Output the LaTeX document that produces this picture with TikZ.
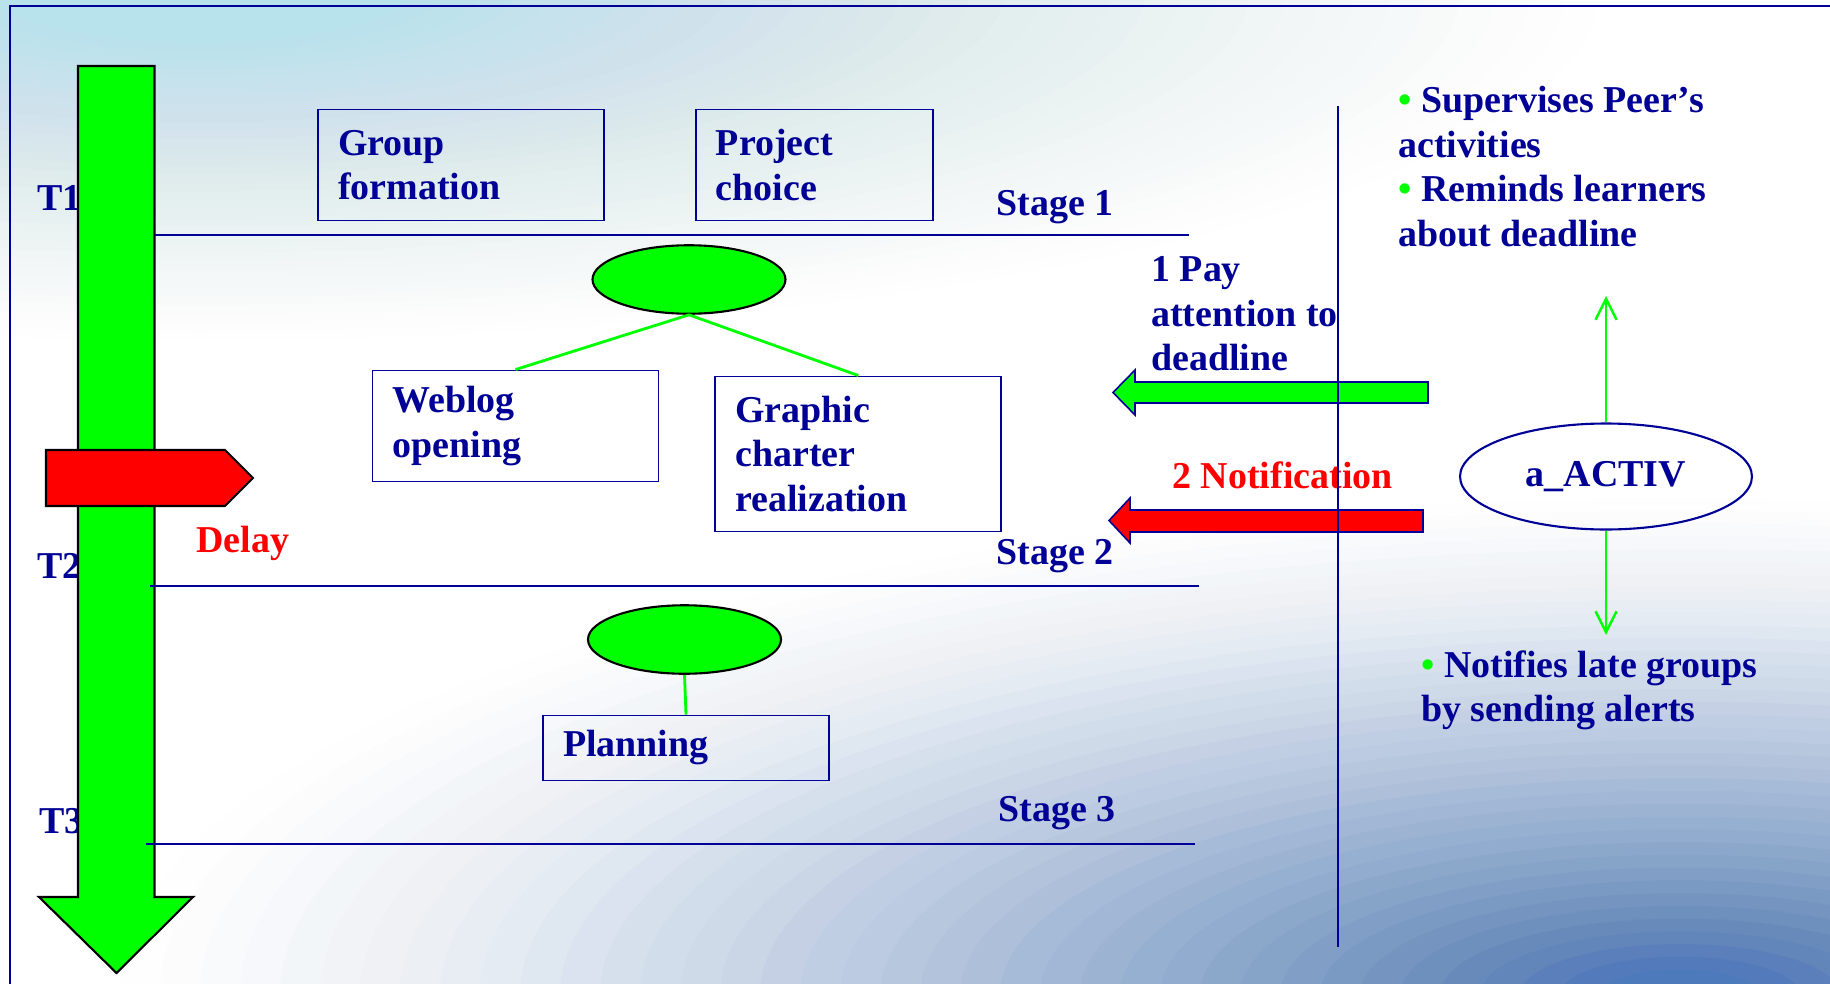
\documentclass[tikz,border=0pt]{standalone}
\usepackage{fontspec}
\setmainfont{Liberation Serif}
\usepackage{tikz}
\usetikzlibrary{positioning, arrows.meta, shapes.geometric}
\definecolor{darknavy}{RGB}{0,0,150}
\definecolor{brightgreen}{RGB}{0,255,0}
\definecolor{alertred}{RGB}{255,0,0}
\definecolor{bgcyan}{RGB}{184,226,236}
\definecolor{bgsteel}{RGB}{76,122,186}

\begin{document}
\begin{tikzpicture}[
    x=0.02cm, y=-0.02cm,
    >={Straight Barb[length=0.42cm, width=0.42cm]},
    txt/.style={font=\fontsize{21.6pt}{25.4pt}\selectfont\bfseries,
                text=darknavy, inner sep=0pt, align=left},
    taskbox/.style={txt, draw=darknavy, line width=1.1pt, inner xsep=0.4cm,
                    minimum height=2.22cm, minimum width=5.72cm, text width=4.92cm},
    blob/.style={ellipse, draw=black, line width=1.2pt, fill=brightgreen,
                 minimum width=3.86cm, minimum height=1.37cm, inner sep=0pt},
    stageline/.style={darknavy, line width=1.5pt},
    link/.style={brightgreen, line width=1.6pt},
    garr/.style={->, brightgreen, line width=1.4pt},
    bigarr/.style={draw=black, line width=1.2pt},
    sidearr/.style={draw=darknavy, line width=0.9pt},
  ]
  % Background
  \useasboundingbox (0,0) rectangle (1830,984);
  \begin{scope}
    \clip (0,0) rectangle (1830,984);
    \fill[white] (0,0) rectangle (1830,984);
    \foreach \k in {1,...,40} {
      \pgfmathsetmacro\ta{1-0.95*(max(0.001,1-(\k-0.5)/40))^1.3}
      \pgfmathsetmacro\tb{1-0.95*(max(0.001,1-(\k+0.5)/40))^1.3}
      \pgfmathsetmacro\op{1-\ta/\tb}
      \pgfmathsetmacro\rf{\k/40}
      \fill[bgcyan, fill opacity=\op] (200,-10)
        ellipse [x radius=\rf*1400, y radius=\rf*350];
    }
    \foreach \k in {1,...,40} {
      \pgfmathsetmacro\ta{1-0.97*(max(0.001,1-(\k-0.5)/40))^1.5}
      \pgfmathsetmacro\tb{1-0.97*(max(0.001,1-(\k+0.5)/40))^1.5}
      \pgfmathsetmacro\op{1-\ta/\tb}
      \pgfmathsetmacro\rf{\k/40}
      \fill[bgsteel, fill opacity=\op] (1680,995)
        ellipse [x radius=\rf*1600, y radius=\rf*510];
    }
  \end{scope}
  \draw[darknavy, line width=1.2pt] (10,990) -- (10,6) -- (1840,6);

  % Time axis
  \node[txt, anchor=base west] (t1) at (37,210) {T1};
  \node[txt, anchor=base west] (t2) at (37,578) {T2};
  \node[txt, anchor=base west] (t3) at (39,833) {T3};
  \draw[bigarr, fill=brightgreen] (78,66) -- (154.5,66) -- (154.5,897) -- (193,897)
    -- (116.5,973) -- (39,897) -- (78,897) -- cycle;
  \draw[bigarr, fill=alertred] (46,450) -- (225,450) -- (253,478) -- (225,506)
    -- (46,506) -- cycle;
  \node[txt, text=alertred, anchor=base west] (delay) at (196,552) {Delay};

  % Stages
  \foreach \s/\ya/\xa/\xb/\xl/\yl in {1/235/154.5/1189/1114/215,
                                      2/586/150/1199/1114/564,
                                      3/844/146/1195/1116/821} {
    \node[txt, anchor=base east] (stage\s) at (\xl,\yl) {Stage \s};
    \draw[stageline] (\xa,\ya) -- (\xb,\ya);
  }

  % Tasks
  \node[taskbox] (group) at (461,165) {Group\\formation};
  \node[taskbox, minimum width=4.74cm, text width=3.94cm,
        right=1.8cm of group] (project) {Project\\choice};
  \node[taskbox] (weblog) at (515.5,426) {Weblog\\opening};
  \node[taskbox, minimum height=3.1cm, right=1.1cm of weblog,
        yshift=-0.56cm] (graphic) {Graphic\\charter\\realization};
  \node[taskbox, minimum height=1.3cm] (planning) at (686,748) {Planning};

  \node[blob] (blob1) at (689,279.5) {};
  \node[blob] (blob2) at (684.5,639.5) {};
  \draw[link] (blob1.south) -- (weblog.north);
  \draw[link] (blob1.south) -- (graphic.north);
  \draw[link] (blob2.south) -- (planning.north);

  % Agent side
  \node[txt, anchor=north west] (pay) at (1151,256) {1 Pay\\attention to\\deadline};
  \node[txt, text=alertred, anchor=base west] (notif) at (1172,488) {2 Notification};
  \draw[sidearr, fill=brightgreen] (1428,382) -- (1135,382) -- (1135,370) -- (1113,392.5)
    -- (1135,415) -- (1135,403) -- (1428,403) -- cycle;
  \draw[sidearr, fill=alertred] (1423,510) -- (1130,510) -- (1130,498) -- (1109,520.5)
    -- (1130,543) -- (1130,532) -- (1423,532) -- cycle;

  \node[txt, ellipse, draw=darknavy, line width=1.2pt, minimum width=5.84cm,
        minimum height=2.12cm] (activ) at (1606,476.5) {a\_ACTIV};
  \coordinate (uptip) at (1606,296);
  \coordinate (downtip) at (1606,635);
  \draw[garr] (activ.north) -- (uptip);
  \draw[garr] (activ.south) -- (downtip);

  \node[txt, anchor=north west] (duties) at (1398,86)
    {\textcolor{brightgreen}{\textbullet} Supervises Peer’s\\activities\\
     \textcolor{brightgreen}{\textbullet} Reminds learners\\about deadline};
  \node[txt, anchor=north west] (alerts) at (1421,650)
    {\textcolor{brightgreen}{\textbullet} Notifies late groups\\by sending alerts};

  \draw[darknavy, line width=1.2pt] (1338,106) -- (1338,947);
\end{tikzpicture}
\end{document}
